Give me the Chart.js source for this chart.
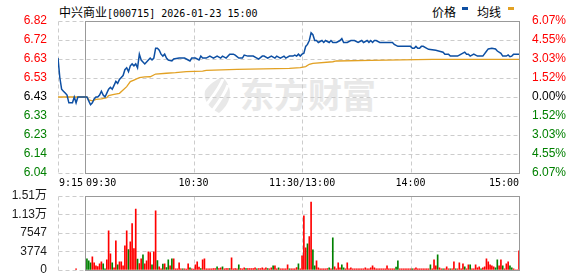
<!DOCTYPE html>
<html>
<head>
<meta charset="utf-8">
<script src="https://cdn.jsdelivr.net/npm/chart.js@4.4.1/dist/chart.umd.min.js"></script>
<style>
  html, body { margin: 0; padding: 0; background: #fff; overflow: hidden; }
  #wrap { position: relative; width: 578px; height: 276px; overflow: hidden; }
  canvas { position: absolute; left: 0; }
  #priceChart { top: 0; }
  #volChart { top: 184px; }
  .txt { position: absolute; white-space: pre; color: #000; line-height: 13px; }
  .cjk { font: 12px "Noto Sans CJK SC", sans-serif; }
  .mono { font: 10px "DejaVu Sans Mono", monospace; }
  .sw { position: absolute; width: 6px; height: 3px; }
  #mark { position: absolute; left: 200px; top: 76px; color: #e8e8e8; white-space: nowrap; }
  #mark span { position: absolute; left: 40px; top: -2px; font: bold 34px/40px "Noto Sans CJK SC", sans-serif; }
</style>
</head>
<body>
<div id="wrap">
  <div id="mark">
    <svg width="34" height="38" viewBox="0 0 34 38">
      <path d="M22 1 C32 9 34 25 19 37 C9 32 3 24 5 15 C9 8 16 4 22 1 Z" fill="#e8e8e8"/>
      <path d="M7 28 C13 20 19 13 23 3" stroke="#fff" stroke-width="3" fill="none"/>
      <path d="M13 34 C19 26 25 18 28 9" stroke="#fff" stroke-width="3" fill="none"/>
    </svg>
    <span>东方财富</span>
  </div>
  <div class="txt" style="left:59px;top:3px;"><span class="cjk" id="name"></span><span class="mono" id="meta"></span></div>
  <div class="txt cjk" style="left:432px;top:3px;">价格</div>
  <div class="sw" style="left:462px;top:7px;background:#0d4fa3;"></div>
  <div class="txt cjk" style="left:477px;top:3px;">均线</div>
  <div class="sw" style="left:508px;top:7px;background:#e2a123;"></div>
  <canvas id="priceChart" width="578" height="190"></canvas>
  <canvas id="volChart" width="578" height="96"></canvas>
</div>
<script>
// --- chart data (x = trading minutes since 9:15, lunch break removed) ---
const stockName = '中兴商业';
const stockMeta = '[000715] 2026-01-23 15:00';
const prevClose = 6.43;
const maxPct = 6.07;
// right axis labels, from 0 outwards (same for up and down)
const pctTickLabels = ['0.00%', '1.52%', '3.03%', '4.55%', '6.07%'];

const timeTickLabels = ['9:15', '09:30', '10:30', '11:30/13:00', '14:00', '15:00'];
const timeTickMinutes = [0, 15, 75, 135, 195, 255];

const priceTimes = [
  0, 1, 2, 3, 4, 5, 6, 7, 8, 9, 10, 11, 15,
  16, 17, 18, 19, 20, 21, 22, 23, 24, 25, 26, 27, 28, 29, 30, 31, 32, 33, 34, 35,
  36, 37, 38, 39, 40, 41, 42, 43, 44, 45, 46, 47, 48, 49, 50, 51, 52, 53, 54, 55,
  56, 57, 58, 59, 60, 61, 63, 64, 67, 70, 72, 73, 74, 76, 78, 79, 80, 82, 84, 86,
  88, 90, 91, 93, 95, 97, 98, 100, 102, 103, 105, 108, 110, 111, 113, 114, 116, 118,
  120, 121, 123, 125, 126, 128, 130, 131, 132, 133, 134, 135,
  136, 137, 138, 139, 140, 141, 142, 143, 144, 146, 147, 148, 150, 151, 152, 154,
  156, 157, 158, 160, 162, 164, 166, 168, 169, 171, 172, 173, 174, 175, 176, 178,
  181, 185, 186, 188, 195, 196, 197, 198, 199, 200, 201, 202, 204, 205, 209, 211,
  213, 214, 216, 217, 221, 222, 224, 225, 226, 227, 228, 230, 232, 235, 237, 238,
  240, 242, 243, 245, 246, 248, 249, 250, 251, 252, 255
];
const priceValues = [
  6.63, 6.53, 6.47, 6.46, 6.45, 6.44, 6.40, 6.40, 6.40, 6.43, 6.40, 6.43, 6.43,
  6.43, 6.41, 6.39, 6.40, 6.42, 6.43, 6.43, 6.44, 6.46, 6.44, 6.43, 6.45, 6.47, 6.48, 6.47, 6.49, 6.51, 6.50, 6.52, 6.53,
  6.54, 6.57, 6.58, 6.56, 6.59, 6.60, 6.59, 6.60, 6.58, 6.65, 6.62, 6.61, 6.60, 6.61, 6.62, 6.63, 6.62, 6.63, 6.68, 6.68,
  6.67, 6.65, 6.64, 6.65, 6.63, 6.62, 6.615, 6.625, 6.63, 6.63, 6.62, 6.615, 6.63, 6.63, 6.62, 6.64, 6.63, 6.63, 6.64, 6.63,
  6.64, 6.63, 6.64, 6.63, 6.65, 6.65, 6.645, 6.63, 6.63, 6.645, 6.64, 6.64, 6.63, 6.625, 6.64, 6.64, 6.63, 6.64,
  6.63, 6.64, 6.63, 6.64, 6.63, 6.64, 6.64, 6.645, 6.64, 6.65, 6.64, 6.65,
  6.655, 6.69, 6.70, 6.72, 6.76, 6.75, 6.72, 6.72, 6.71, 6.72, 6.71, 6.72, 6.71, 6.72, 6.71, 6.71,
  6.72, 6.73, 6.71, 6.71, 6.72, 6.72, 6.71, 6.72, 6.71, 6.72, 6.71, 6.72, 6.71, 6.72, 6.72, 6.71,
  6.71, 6.71, 6.70, 6.69, 6.69, 6.68, 6.68, 6.69, 6.68, 6.68, 6.69, 6.69, 6.68, 6.675, 6.67, 6.665,
  6.66, 6.65, 6.65, 6.64, 6.64, 6.645, 6.655, 6.66, 6.65, 6.65, 6.64, 6.65, 6.64, 6.64, 6.665, 6.677,
  6.68, 6.677, 6.666, 6.654, 6.64, 6.64, 6.646, 6.637, 6.64, 6.65, 6.65
];

const avgTimes = [
  0, 16, 17, 19, 21, 24, 27, 28, 31, 34, 36, 38, 40, 42, 45, 48, 51, 54, 60, 65, 71,
  80, 82, 99, 128, 134, 137, 139, 141, 152, 154, 173, 207, 255
];
const avgValues = [
  6.43, 6.43, 6.415, 6.41, 6.418, 6.42, 6.427, 6.437, 6.444, 6.449, 6.466, 6.483, 6.509,
  6.517, 6.529, 6.533, 6.534, 6.548, 6.552, 6.555, 6.56,
  6.563, 6.567, 6.572, 6.577, 6.581, 6.586, 6.598, 6.603, 6.611, 6.615, 6.618, 6.623, 6.623
];

// call auction volume at 9:25
const auctionMinute = 10;
const auctionVolume = 204;
// one bar per minute: 9:31 - 11:30, then 13:01 - 15:00
const amVolumes = [
  2244, 1836, 1428, 2652, 1428, 816, 680, 1224, 1632, 1224,
  204, 2040, 7956, 3264, 1428, 408, 5916, 1020, 1632, 1632,
  816, 4896, 7956, 4148, 5712, 9452, 4352, 12444, 2176, 1292,
  2244, 3060, 1224, 1836, 3672, 3536, 1020, 3672, 12036, 1904,
  612, 204, 1156, 1224, 476, 2040, 816, 2244, 2244, 204,
  204, 1428, 204, 204, 204, 136, 1224, 408, 204, 136,
  1020, 1632, 544, 272, 2040, 2244, 204, 204, 204, 204,
  272, 272, 612, 272, 408, 612, 204, 272, 272, 272,
  2448, 204, 272, 204, 1020, 272, 204, 408, 272, 272,
  272, 272, 272, 408, 204, 272, 272, 408, 204, 408,
  272, 204, 408, 816, 816, 204, 408, 204, 204, 204,
  204, 1020, 204, 204, 204, 204, 476, 1224, 204, 2856
];
const pmVolumes = [
  11016, 4488, 5304, 6800, 13872, 4080, 816, 1836, 408, 204,
  204, 204, 204, 272, 408, 204, 6528, 612, 204, 1428,
  408, 1020, 408, 204, 1428, 204, 408, 204, 204, 204,
  204, 204, 204, 204, 408, 204, 204, 408, 816, 408,
  204, 204, 204, 204, 204, 204, 816, 204, 204, 204,
  204, 544, 1836, 204, 204, 204, 204, 204, 204, 204,
  204, 204, 408, 204, 204, 204, 204, 204, 204, 204,
  1020, 204, 2040, 816, 3060, 408, 204, 204, 204, 612,
  204, 204, 204, 1632, 204, 204, 1428, 204, 1224, 612,
  204, 1020, 1020, 204, 204, 1020, 408, 612, 204, 408,
  612, 2244, 1632, 1020, 816, 612, 408, 2040, 816, 2040,
  816, 204, 1224, 1632, 816, 408, 204, 0, 0, 3876
];
// r = price up (red), g = price down (green)
const amSides = (
  'gggrrrrrrg' + 'grrrgrrgrr' + 'rrrgrrrrgr' + 'rgrrrrgrrg' +
  'rrgrggrgrr' + 'rrrgrrrgrr' + 'rrrgrrrrrr' + 'rrgrrgrrrg' +
  'rrrrgrrrgr' + 'rrrrgrrrrr' + 'grrgrrgrrr' + 'rrgrrrrgrr'
).split('');
const pmSides = (
  'rrgrrggrrr' + 'rrrrgrgrrr' + 'rggrrrrrrr' + 'rrrrrrrrrr' +
  'rrrrrrrrrr' + 'rggrrrrrrr' + 'grrrrrrrrr' + 'grrrgrrgrr' +
  'rgrrgrrrrg' + 'rrgrrrrrgr' + 'rrrrrrggrr' + 'grrrggrrrr'
).split('');
const volTickValues = [0, 3774, 7547, 11321, 15094];

document.getElementById('name').textContent = stockName;
document.getElementById('meta').textContent = stockMeta;

// --- helpers ---
const RED = '#ff0000', GREEN = '#008000';
const priceMin = prevClose * (1 - maxPct / 100);
const priceMax = prevClose * (1 + maxPct / 100);
const STEPS = 8;
const stepOf = v => Math.round((v - prevClose) / (priceMax - priceMin) * STEPS);
const priceColor = v => stepOf(v) === 0 ? '#000' : (v > prevClose ? RED : GREEN);
const openMinute = timeTickMinutes[1];
const AXIS_FONT = { family: 'Liberation Sans, Arial, "Noto Sans CJK SC"', size: 12 };

// grid, frame and time labels
const board = {
  id: 'board',
  beforeDatasetsDraw(chart, args, opts) {
    const { ctx, chartArea: a, scales: { x, y } } = chart;
    const L = Math.round(a.left) + 0.5, R = Math.round(a.right) + 0.5;
    const T = Math.round(a.top) + 0.5, B = Math.round(a.bottom) + 0.5;
    const open = Math.round(x.getPixelForValue(openMinute)) + 0.5;
    ctx.save();
    ctx.lineWidth = 1;
    ctx.strokeStyle = '#cccccc';
    ctx.setLineDash([4, 3]);
    ctx.beginPath();
    y.ticks.forEach(t => {
      const py = Math.round(y.getPixelForValue(t.value)) + 0.5;
      ctx.moveTo(L, py); ctx.lineTo(R, py);
    });
    timeTickMinutes.slice(2, -1).forEach(m => {
      const px = Math.round(x.getPixelForValue(m)) + 0.5;
      ctx.moveTo(px, T); ctx.lineTo(px, B);
    });
    ctx.moveTo(L, T); ctx.lineTo(L, B);
    ctx.stroke();
    ctx.setLineDash([]);
    ctx.strokeStyle = '#999999';
    ctx.strokeRect(open, T, R - open, B - T);
    ctx.restore();
  },
  afterDraw(chart, args, opts) {
    if (!opts.timeLabels) return;
    const { ctx, chartArea: a, scales: { x } } = chart;
    ctx.save();
    ctx.font = '10px "DejaVu Sans Mono", monospace';
    ctx.fillStyle = '#000';
    ctx.textBaseline = 'middle';
    timeTickLabels.forEach((lab, i) => {
      let px = x.getPixelForValue(timeTickMinutes[i]);
      if (i < 2) { ctx.textAlign = 'left'; px += 1; }
      else if (i === timeTickLabels.length - 1) ctx.textAlign = 'right';
      else ctx.textAlign = 'center';
      ctx.fillText(lab, px, a.bottom + 10);
    });
    ctx.restore();
  }
};

const pricePoints = priceTimes.map((t, i) => ({ x: t, y: priceValues[i] }));
const avgPoints = avgTimes.map((t, i) => ({ x: t, y: avgValues[i] }));

const evenTicks = (lo, hi, n) => s => {
  s.ticks = [];
  for (let i = 0; i <= n; i++) s.ticks.push({ value: lo + (hi - lo) * i / n });
};

new Chart(document.getElementById('priceChart'), {
  type: 'line',
  data: {
    datasets: [
      { data: pricePoints, borderColor: '#0d4fa3', borderWidth: 1.5, pointRadius: 0, tension: 0 },
      { data: avgPoints, borderColor: '#e2a123', borderWidth: 1.3, pointRadius: 0, tension: 0 }
    ]
  },
  options: {
    responsive: false,
    animation: false,
    layout: { padding: { top: 21, bottom: 17, left: 0, right: 0 } },
    plugins: { legend: { display: false }, tooltip: { enabled: false }, board: { timeLabels: true } },
    scales: {
      x: { type: 'linear', min: 0, max: 255, display: false },
      y: {
        position: 'left', min: priceMin, max: priceMax,
        afterBuildTicks: evenTicks(priceMin, priceMax, STEPS),
        afterFit: s => { s.width = 58; },
        grid: { display: false }, border: { display: false },
        ticks: { padding: 3, font: AXIS_FONT, color: c => priceColor(c.tick.value), callback: v => v.toFixed(2) }
      },
      y1: {
        position: 'right', min: priceMin, max: priceMax,
        afterBuildTicks: evenTicks(priceMin, priceMax, STEPS),
        afterFit: s => { s.width = 59; },
        grid: { display: false }, border: { display: false },
        ticks: {
          padding: 5, font: AXIS_FONT, color: c => priceColor(c.tick.value),
          callback: v => pctTickLabels[Math.abs(stepOf(v))]
        }
      }
    }
  },
  plugins: [board]
});

const volPoints = [{ x: auctionMinute, y: auctionVolume }];
const volColors = [RED];
amVolumes.forEach((v, i) => { volPoints.push({ x: openMinute + 1 + i, y: v }); volColors.push(amSides[i] === 'r' ? RED : GREEN); });
pmVolumes.forEach((v, i) => { volPoints.push({ x: timeTickMinutes[3] + 1 + i, y: v }); volColors.push(pmSides[i] === 'r' ? RED : GREEN); });

new Chart(document.getElementById('volChart'), {
  type: 'bar',
  data: { datasets: [{ data: volPoints, backgroundColor: volColors, barThickness: 1, borderWidth: 0 }] },
  options: {
    responsive: false,
    animation: false,
    layout: { padding: { top: 12, bottom: 10, left: 0, right: 59 } },
    plugins: { legend: { display: false }, tooltip: { enabled: false }, board: { timeLabels: false } },
    scales: {
      x: { type: 'linear', min: 0, max: 255, offset: false, display: false },
      y: {
        position: 'left', min: 0, max: volTickValues[volTickValues.length - 1],
        afterBuildTicks: s => { s.ticks = volTickValues.map(v => ({ value: v })); },
        afterFit: s => { s.width = 58; },
        grid: { display: false }, border: { display: false },
        ticks: {
          padding: 3, font: AXIS_FONT, color: '#1a1a1a',
          callback: v => v >= 10000 ? (v / 10000).toFixed(2) + '万' : String(v)
        }
      }
    }
  },
  plugins: [board]
});
</script>
</body>
</html>
